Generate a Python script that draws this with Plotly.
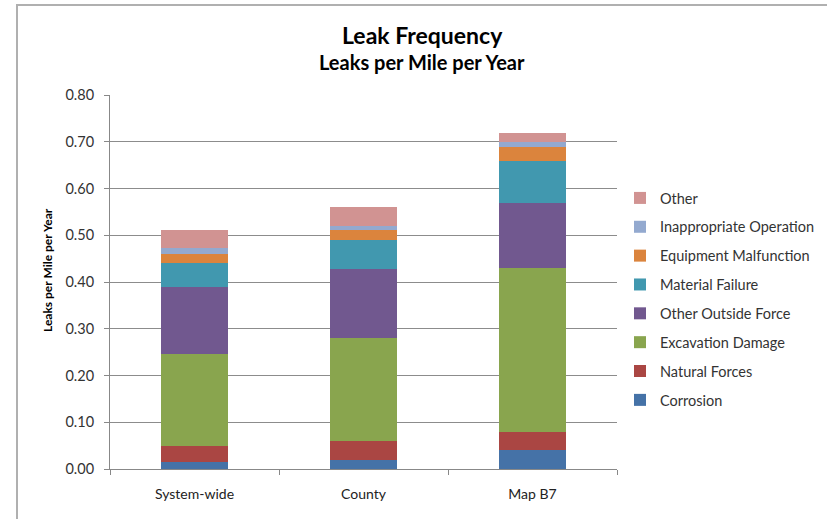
import plotly.graph_objects as go

categories = ["System-wide", "County", "Map B7"]

series_names = ["Corrosion", "Natural Forces", "Excavation Damage", "Other Outside Force",
                "Material Failure", "Equipment Malfunction", "Inappropriate Operation", "Other"]

corrosion = [0.015, 0.019, 0.040]
natural_forces = [0.035, 0.040, 0.040]
excavation_damage = [0.195, 0.221, 0.350]
other_outside_force = [0.145, 0.148, 0.140]
material_failure = [0.050, 0.062, 0.088]
equipment_malfunction = [0.020, 0.022, 0.030]
inappropriate_operation = [0.012, 0.007, 0.011]
other = [0.040, 0.041, 0.020]

series_values = [corrosion, natural_forces, excavation_damage, other_outside_force,
                 material_failure, equipment_malfunction, inappropriate_operation, other]

colors = ["#4572A7", "#AA4643", "#89A54E", "#71588F", "#4198AF", "#DB843D", "#93A9CF", "#D19392"]

y_ticks = [0.0, 0.1, 0.2, 0.3, 0.4, 0.5, 0.6, 0.7, 0.8]
y_tick_labels = ["0.00", "0.10", "0.20", "0.30", "0.40", "0.50", "0.60", "0.70", "0.80"]

FONT = "Lato"

fig = go.Figure()
n = len(series_names)
for i, (name, vals, col) in enumerate(zip(series_names, series_values, colors)):
    fig.add_trace(go.Bar(
        x=categories, y=vals, name=name, legendgroup=name,
        legendrank=100 * (n - i),
        marker=dict(color=col, line=dict(width=0)),
    ))

L, R, T, B = 110, 210, 95, 50
W, H = 827, 519
pw = W - L - R
ph = H - T - B

def px_x(x):
    return (x - L) / pw

def px_y(y):
    return (H - B - y) / ph

fig.update_layout(
    width=W, height=H,
    margin=dict(l=L, r=R, t=T, b=B, autoexpand=False),
    barmode="stack",
    bargap=0.605,
    plot_bgcolor="white",
    paper_bgcolor="white",
    font=dict(family=FONT, size=12, color="#333333"),
    showlegend=True,
    legend=dict(
        x=px_x(620), xanchor="left",
        y=px_y(299), yanchor="middle",
        traceorder="grouped",
        tracegroupgap=7,
        font=dict(family=FONT, size=14.5, color="#333333"),
        itemwidth=30,
        bgcolor="rgba(0,0,0,0)",
    ),
    xaxis=dict(
        type="category",
        showgrid=False,
        showline=True, linecolor="#888888", linewidth=1,
        ticks="outside", ticklen=5, tickcolor="#888888",
        tickson="boundaries",
        ticklabelstandoff=12,
        tickfont=dict(family=FONT, size=14, color="#222222"),
    ),
    yaxis=dict(
        range=[0, 0.8],
        tickvals=y_ticks, ticktext=y_tick_labels,
        showgrid=True, gridcolor="#8c8c8c", gridwidth=1,
        showline=True, linecolor="#888888", linewidth=1,
        ticks="outside", ticklen=5, tickcolor="#888888",
        ticklabelstandoff=7,
        tickfont=dict(family=FONT, size=14.5, color="#333333"),
        zeroline=False,
    ),
    annotations=[
        dict(text="<b>Leak Frequency</b>", xref="paper", yref="paper",
             x=px_x(422), y=px_y(35), xanchor="center", yanchor="middle",
             showarrow=False, font=dict(family=FONT, size=23, color="#000000")),
        dict(text="<b>Leaks per Mile per Year</b>", xref="paper", yref="paper",
             x=px_x(422), y=px_y(62), xanchor="center", yanchor="middle",
             showarrow=False, font=dict(family=FONT, size=20, color="#000000")),
        dict(text="<b>Leaks per Mile per Year</b>", xref="paper", yref="paper",
             x=px_x(47), y=px_y(270), xanchor="center", yanchor="middle",
             textangle=-90, showarrow=False,
             font=dict(family=FONT, size=12, color="#000000")),
    ],
    shapes=[
        dict(type="rect", xref="paper", yref="paper",
             x0=px_x(17), x1=px_x(835), y0=px_y(530), y1=px_y(5),
             line=dict(color="#b0b0b0", width=2), fillcolor="rgba(0,0,0,0)",
             layer="below"),
    ],
)

fig.write_html("out.html",
               config={"displayModeBar": False},
               post_script="document.body.style.margin='0';document.body.style.overflow='hidden';")
